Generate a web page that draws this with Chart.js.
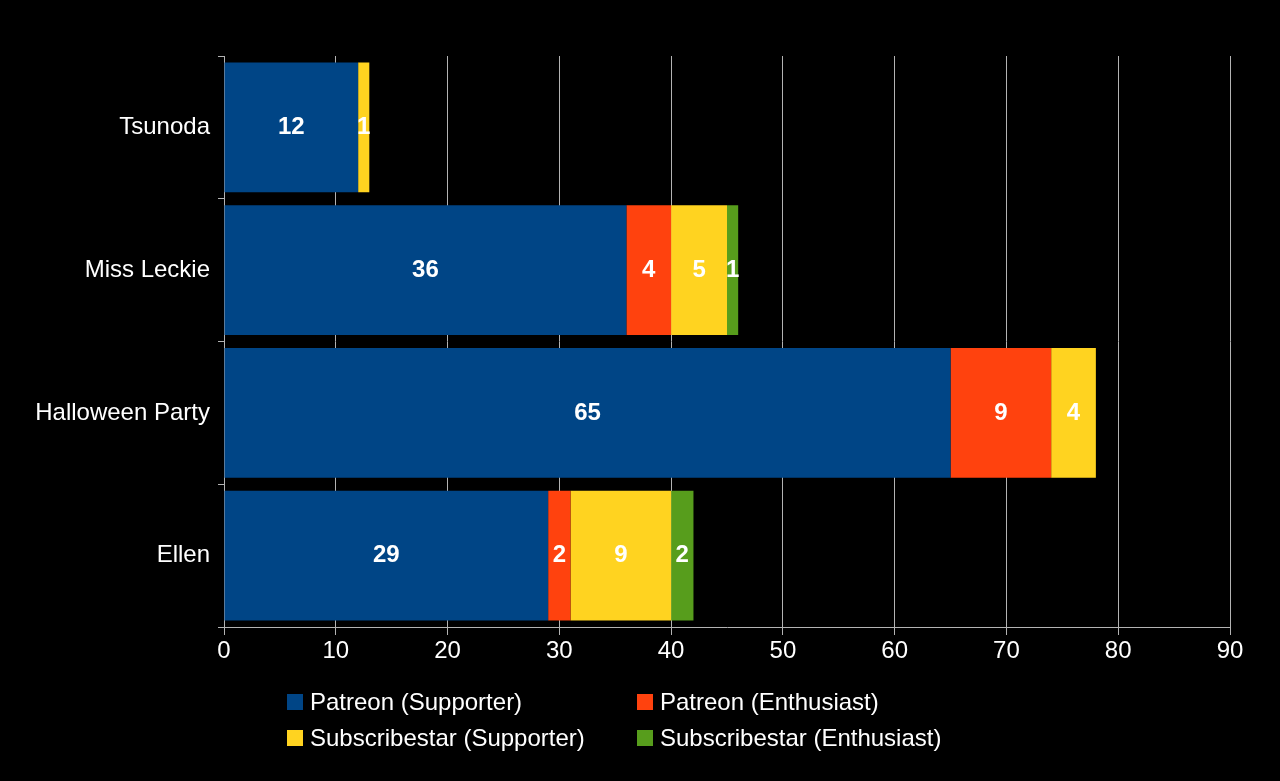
<!DOCTYPE html>
<html>
<head>
<meta charset="utf-8">
<script src="https://cdn.jsdelivr.net/npm/chart.js@4"></script>
<style>
body { margin: 0; background: #000; width: 1280px; height: 781px; overflow: hidden; font-family: "Liberation Sans", sans-serif; }
#wrap { position: absolute; left: 0; top: 0; width: 1280px; height: 781px; }
#legend { position: absolute; left: 287px; top: 689px; display: grid; grid-template-columns: 350px 360px; row-gap: 10px; color: #fff; font-size: 24px; }
#legend div { display: flex; align-items: center; height: 26px; }
#legend span { display: inline-block; width: 16px; height: 16px; margin-right: 7px; }
</style>
</head>
<body>
<div id="wrap"><canvas id="c" width="1280" height="781"></canvas></div>
<div id="legend"></div>
<script>
// 카테고리와 시리즈 값
const categories = ["Tsunoda", "Miss Leckie", "Halloween Party", "Ellen"];
const seriesNames = ["Patreon (Supporter)", "Patreon (Enthusiast)", "Subscribestar (Supporter)", "Subscribestar (Enthusiast)"];
const patreonSupporter = [12, 36, 65, 29];
const patreonEnthusiast = [0, 4, 9, 2];
const subSupporter = [1, 5, 4, 9];
const subEnthusiast = [0, 1, 0, 2];
const colors = ["#004586", "#ff420e", "#ffd320", "#579d1c"];

const allValues = [patreonSupporter, patreonEnthusiast, subSupporter, subEnthusiast];

// 막대 위에 값 표시
const valueLabels = {
    id: "valueLabels",
    afterDatasetsDraw(chart) {
        const ctx = chart.ctx;
        ctx.save();
        ctx.font = "bold 24px 'Liberation Sans', sans-serif";
        ctx.fillStyle = "#fff";
        ctx.textAlign = "center";
        ctx.textBaseline = "middle";
        chart.data.datasets.forEach((ds, i) => {
            chart.getDatasetMeta(i).data.forEach((bar, j) => {
                if (!ds.data[j]) return;
                ctx.fillText(ds.data[j], (bar.x + bar.base) / 2, bar.y);
            });
        });
        ctx.restore();
    }
};

new Chart(document.getElementById("c"), {
    type: "bar",
    data: {
        labels: categories,
        datasets: allValues.map((d, i) => ({
            label: seriesNames[i], data: d, backgroundColor: colors[i],
            barPercentage: 0.91, categoryPercentage: 1
        }))
    },
    options: {
        indexAxis: "y",
        responsive: false,
        animation: false,
        layout: { padding: { top: 56, right: 50, left: 0, bottom: 0 } },
        scales: {
            x: {
                stacked: true, min: 0, max: 90,
                ticks: { stepSize: 10, color: "#fff", font: { size: 24, family: "Liberation Sans" }, padding: 2 },
                grid: { color: "#b3b3b3", tickLength: 8, drawTicks: true },
                border: { color: "#b3b3b3" },
                afterFit: s => { s.height = 154; }
            },
            y: {
                stacked: true,
                ticks: { color: "#fff", font: { size: 24, family: "Liberation Sans" }, padding: 8 },
                grid: { display: true, offset: true, drawOnChartArea: false, color: "#b3b3b3", tickLength: 6 },
                border: { color: "#b3b3b3" },
                afterFit: s => { s.width = 224; }
            }
        },
        plugins: { legend: { display: false }, tooltip: { enabled: false } }
    },
    plugins: [valueLabels]
});

const legend = document.getElementById("legend");
seriesNames.forEach((n, i) => {
    const d = document.createElement("div");
    d.innerHTML = `<span style="background:${colors[i]}"></span>${n}`;
    legend.appendChild(d);
});
</script>
</body>
</html>
